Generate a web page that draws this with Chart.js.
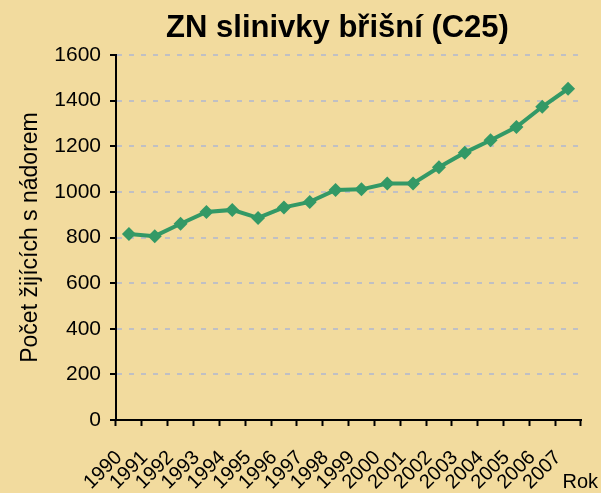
<!DOCTYPE html>
<html><head><meta charset="utf-8">
<script src="https://cdn.jsdelivr.net/npm/chart.js@4/dist/chart.umd.min.js"></script>
<style>html,body{margin:0;padding:0;background:#F2DB9E;}#w{width:601px;height:493px;}</style>
</head><body><div id="w"><canvas id="c" width="601" height="493"></canvas></div>
<script>
const categories = ["1990","1991","1992","1993","1994","1995","1996","1997","1998","1999","2000","2001","2002","2003","2004","2005","2006","2007"];
const values = [815, 806, 860, 912, 921, 886, 932, 956, 1008, 1011, 1037, 1037, 1108, 1172, 1226, 1284, 1373, 1452];
const yTicks = [0, 200, 400, 600, 800, 1000, 1200, 1400, 1600];
const titleText = "ZN slinivky břišní (C25)";
const yTitle = "Počet žijících s nádorem";
const xTitle = "Rok";

const font = "'Liberation Sans', Arial, sans-serif";
const textPlugin = {
  id: 'texts',
  afterDraw(chart) {
    const ctx = chart.ctx;
    ctx.save();
    ctx.fillStyle = "#000";
    ctx.textBaseline = "alphabetic";
    ctx.font = "bold 31px " + font;
    ctx.textAlign = "center";
    ctx.fillText(titleText, 337.5, 37);
    ctx.font = "20px " + font;
    ctx.textAlign = "right";
    ctx.fillText(xTitle, chart.width - 3, chart.height - 5);
    ctx.restore();
  }
};
const bgPlugin = {
  id: 'bg',
  beforeDraw(chart) {
    const ctx = chart.ctx;
    ctx.save();
    ctx.fillStyle = "#F2DB9E";
    ctx.fillRect(0, 0, chart.width, chart.height);
    ctx.restore();
  }
};

new Chart(document.getElementById('c'), {
  type: 'line',
  data: {
    labels: categories,
    datasets: [{
      data: values,
      borderColor: '#339966',
      backgroundColor: '#339966',
      borderWidth: 4,
      pointStyle: 'rectRot',
      pointRadius: 7,
      pointHoverRadius: 7,
      pointBorderWidth: 0,
      tension: 0
    }]
  },
  options: {
    responsive: false,
    animation: false,
    events: [],
    layout: { padding: { left: 0, right: 20, top: 55, bottom: 0 } },
    plugins: {
      legend: { display: false },
      tooltip: { enabled: false },
      title: { display: false }
    },
    scales: {
      x: {
        type: 'category',
        offset: true,
        afterFit(scale) { scale.height = 73; scale.paddingLeft = 0; scale.paddingRight = 0; },
        border: { display: true, color: '#000', width: 2 },
        grid: { offset: true, drawOnChartArea: false, drawTicks: true, tickLength: 6, tickColor: '#000', tickWidth: 2 },
        ticks: {
          autoSkip: false, minRotation: 45, maxRotation: 45,
          labelOffset: -10, padding: 20,
          color: '#000', font: { family: font, size: 20 }
        }
      },
      y: {
        min: 0, max: 1600,
        afterFit(scale) { scale.width = 116; scale.paddingTop = 0; scale.paddingBottom = 0; },
        afterBuildTicks(scale) { scale.ticks = yTicks.map(v => ({ value: v })); },
        border: { display: true, color: '#000', width: 2, dash: [5, 7] },
        grid: {
          color: (c) => c.tick && c.tick.value === 0 ? 'rgba(0,0,0,0)' : '#C0C0C4',
          lineWidth: 2,
          drawTicks: true, tickLength: 6, tickColor: '#000', tickWidth: 2, tickBorderDash: []
        },
        ticks: { padding: 9, color: '#000', font: { family: font, size: 21 }, callback: (v) => String(v) },
        title: {
          display: true, text: yTitle, color: '#000',
          font: { family: font, size: 23 },
          padding: { top: 17, bottom: 0 }
        }
      }
    }
  },
  plugins: [bgPlugin, textPlugin]
});
</script></body></html>
